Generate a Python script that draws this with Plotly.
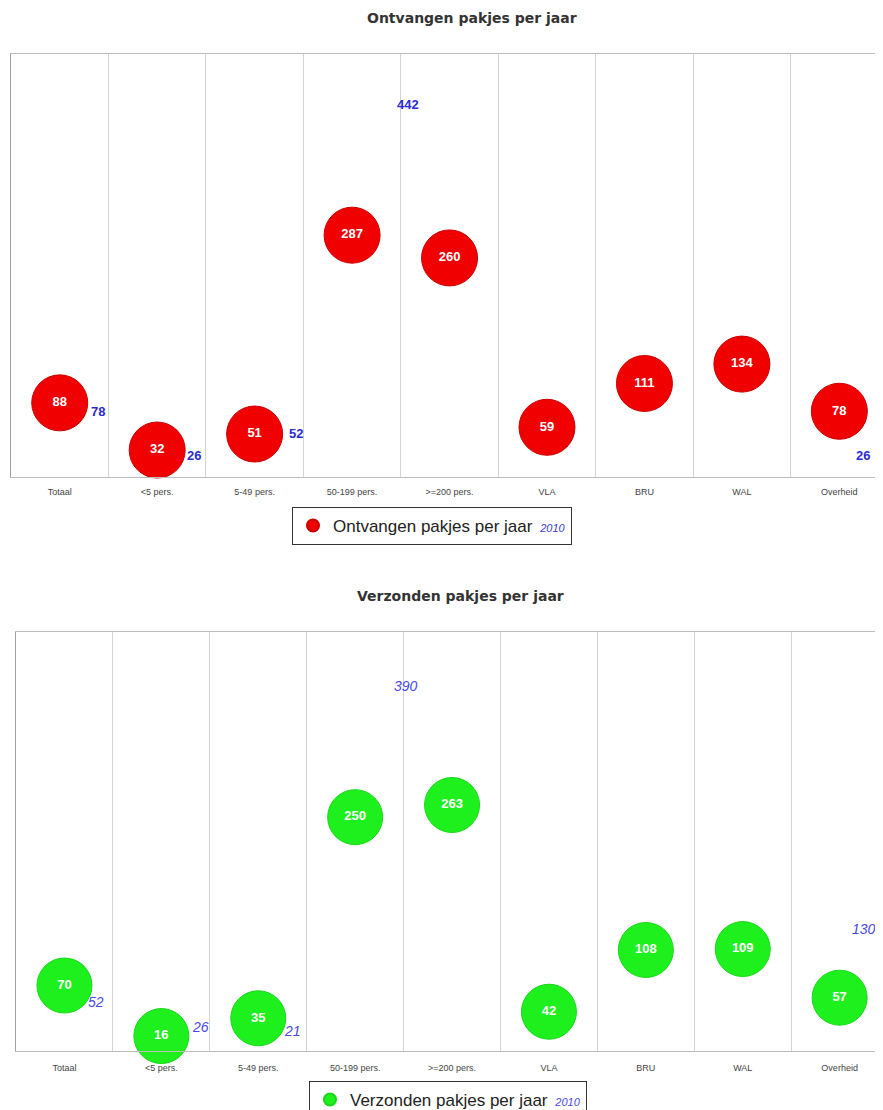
import plotly.graph_objects as go

categories = ["Totaal", "<5 pers.", "5-49 pers.", "50-199 pers.", ">=200 pers.",
              "VLA", "BRU", "WAL", "Overheid"]
ontvangen = [88, 32, 51, 287, 260, 59, 111, 134, 78]
ontvangen_2010 = [78, 26, 52, 442, None, None, None, None, 26]
verzonden = [70, 16, 35, 250, 263, 42, 108, 109, 57]
verzonden_2010 = [52, 26, 21, 390, None, None, None, None, 130]

# label offsets (px) for the 2010 reference numbers
shift_top = [38, 37, 41, 56, 0, 0, 0, 0, 24]
shift_bot = [32, 39, 34, 51, 0, 0, 0, 0, 24]

FONT = "Arial, 'Liberation Sans', sans-serif"
W, H = 883, 1110
OFF = 8  # page body margin


def px(x):
    return (x - OFF) / W


def py(y):
    return 1 - (y - OFF) / H


fig = go.Figure()

fig.add_trace(go.Scatter(
    x=categories, y=ontvangen, mode="markers+text",
    text=[str(v) for v in ontvangen], textposition="middle center",
    textfont=dict(family=FONT, size=13, color="white", weight="bold"),
    marker=dict(size=56, color="#f00000", line=dict(color="#cc0000", width=1)),
    name="Ontvangen pakjes per jaar <i><span style='color:#3a3ad8;font-size:11px'> 2010</span></i>",
    xaxis="x", yaxis="y", legend="legend", cliponaxis=False,
))
fig.add_trace(go.Scatter(
    x=categories, y=verzonden, mode="markers+text",
    text=[str(v) for v in verzonden], textposition="middle center",
    textfont=dict(family=FONT, size=13, color="white", weight="bold"),
    marker=dict(size=55, color="#1ef01e", line=dict(color="#19d819", width=1)),
    name="Verzonden pakjes per jaar <i><span style='color:#4a4aee;font-size:11px'> 2010</span></i>",
    xaxis="x2", yaxis="y2", legend="legend2", cliponaxis=False,
))

annotations = []
for c, v, s in zip(categories, ontvangen_2010, shift_top):
    if v is None:
        continue
    annotations.append(dict(x=c, y=v, xref="x", yref="y", text=str(v), showarrow=False,
                            xshift=s, font=dict(family=FONT, size=13, color="#2b2bd0", weight="bold")))
for c, v, s in zip(categories, verzonden_2010, shift_bot):
    if v is None:
        continue
    annotations.append(dict(x=c, y=v, xref="x2", yref="y2", text=f"<i>{v}</i>", showarrow=False,
                            xshift=s, font=dict(family=FONT, size=14, color="#4848ee")))

TFONT = "'DejaVu Sans', Verdana, sans-serif"
annotations.append(dict(x=px(472), y=py(18), xref="paper", yref="paper",
                        xanchor="center", yanchor="middle",
                        text="<b>Ontvangen pakjes per jaar</b>", showarrow=False,
                        font=dict(family=TFONT, size=14, color="#333")))
annotations.append(dict(x=px(460), y=py(596), xref="paper", yref="paper",
                        xanchor="center", yanchor="middle",
                        text="<b>Verzonden pakjes per jaar</b>", showarrow=False,
                        font=dict(family=TFONT, size=14, color="#333")))

xcommon = dict(type="category", categoryorder="array", categoryarray=categories,
               tickson="boundaries", showgrid=True, gridcolor="#d4d4d4", gridwidth=1,
               showline=True, linecolor="#bdbdbd", linewidth=1, mirror=True,
               ticks="", zeroline=False,
               tickfont=dict(family=FONT, size=9, color="#444"), fixedrange=True)
ycommon = dict(showgrid=False, zeroline=False, showticklabels=False, ticks="",
               showline=True, linecolor="#a0a0a0", linewidth=1)

fig.update_layout(
    width=W, height=H, autosize=False,
    margin=dict(l=0, r=0, t=0, b=0, autoexpand=False),
    paper_bgcolor="white", plot_bgcolor="white",
    xaxis=dict(**xcommon, domain=[px(11), 1], range=[-0.5, 8.53], anchor="y",
               ticklabelstandoff=6),
    yaxis=dict(**ycommon, domain=[py(477), py(54)], range=[0, 502], anchor="x"),
    xaxis2=dict(**xcommon, domain=[px(16), 1], range=[-0.5, 8.53], anchor="y2",
                ticklabelstandoff=8),
    yaxis2=dict(**ycommon, domain=[py(1051), py(632)], range=[0, 448], anchor="x2"),
    legend=dict(x=px(432), y=py(526), xanchor="center", yanchor="middle",
                bordercolor="#333", borderwidth=1, bgcolor="white",
                font=dict(family=FONT, size=17, color="#222"),
                itemsizing="constant", tracegroupgap=0),
    legend2=dict(x=px(448), y=py(1100), xanchor="center", yanchor="middle",
                 bordercolor="#333", borderwidth=1, bgcolor="white",
                 font=dict(family=FONT, size=17, color="#222"),
                 itemsizing="constant", tracegroupgap=0),
    annotations=annotations,
    showlegend=True,
)

fig.write_html("out.html")
